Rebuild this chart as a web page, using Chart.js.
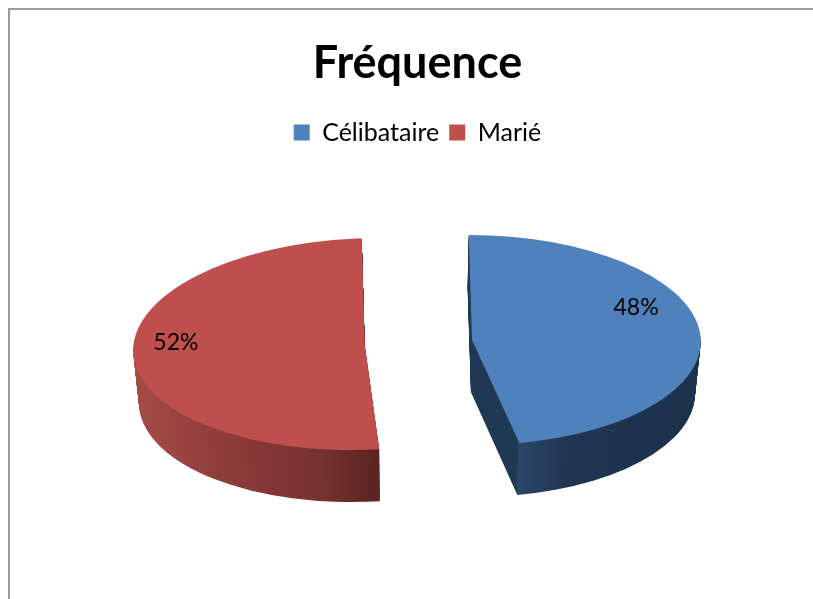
<!DOCTYPE html>
<html>
<head>
<meta charset="utf-8">
<style>
html,body{margin:0;padding:0;background:#fff;overflow:hidden}
#frame{position:absolute;left:8px;top:8px;width:900px;height:700px;border:2px solid #9a9a9a;box-sizing:border-box}
#wrap{position:absolute;left:0;top:0;width:813px;height:599px}
</style>
<script src="https://cdn.jsdelivr.net/npm/chart.js@4"></script>
</head>
<body>
<div id="frame"></div>
<div id="wrap"><canvas id="c"></canvas></div>
<script>
const titleText = 'Fréquence';
const categories = ['Célibataire', 'Marié'];
const values = [48, 52];
const percentLabels = ['48%', '52%'];
const topColors = ['#4f81bd', '#bf4f4c'];
const wallStops = [
  [[0, '#1f3854'], [0.18, '#1f3854'], [0.19, '#2b4668'], [0.4, '#1f3551'], [1, '#1c324b']],
  [[0, '#a54b47'], [0.47, '#8a3a37'], [0.79, '#753230'], [1, '#5c2422']]
];

const pie3d = {
  id: 'pie3d',
  beforeDatasetDraw(chart, args, o) {
    const ctx = chart.ctx;
    const arcs = chart.getDatasetMeta(0).data;
    const R = arcs[0].outerRadius;
    const off0 = (arcs[0].options.offset || 0) / 4;
    const Rtrue = R + off0;
    const s = o.radiusX / Rtrue;
    const sy = s * o.squash;
    arcs.forEach((arc, i) => {
      const k = o.scale[i];
      const view = (dy) => {
        ctx.translate(arc.x + o.xShift[i], arc.y + o.yShift[i] + dy);
        ctx.transform(1, 0, o.shear[i], 1, 0, 0);
        ctx.scale(s * k * (1 - o.taper * dy / o.depth), sy * k);
        ctx.translate(-arc.x, -arc.y);
      };
      const base = arc.options;
      const off = (base.offset || 0) / 4;
      const mid = (arc.startAngle + arc.endAngle) / 2;
      const g = i === 0
        ? ctx.createLinearGradient(arc.x, 0, arc.x + Rtrue, 0)
        : ctx.createLinearGradient(arc.x - Rtrue, 0, arc.x + Rtrue * 0.1, 0);
      wallStops[i].forEach(st => g.addColorStop(st[0], st[1]));
      arc.options = Object.assign(Object.create(base), { backgroundColor: g });
      for (let d = o.depth; d >= 1; d--) {
        ctx.save(); view(d); arc.draw(ctx); ctx.restore();
      }
      arc.options = base;
      ctx.save(); view(0); arc.draw(ctx); ctx.restore();
      ctx.save();
      ctx.fillStyle = '#000';
      ctx.font = o.labelFont;
      ctx.textAlign = 'center';
      ctx.textBaseline = 'middle';
      const a = o.labelAnchors[i];
      const cx = arc.x + Math.cos(mid) * off * s;
      const cy = arc.y + Math.sin(mid) * off * sy;
      ctx.fillText(percentLabels[i], cx + a[0] * o.radiusX, cy + a[1] * o.radiusX * o.squash);
      ctx.restore();
    });
    return false;
  }
};

new Chart(document.getElementById('c'), {
  type: 'pie',
  plugins: [pie3d],
  data: {
    labels: categories,
    datasets: [{ data: values, backgroundColor: topColors, borderWidth: 0, offset: 143, hoverOffset: 143 }]
  },
  options: {
    responsive: true,
    maintainAspectRatio: false,
    animation: false,
    rotation: -2,
    layout: { padding: { top: 36, left: 22, right: 0, bottom: 71 } },
    plugins: {
      tooltip: { enabled: false },
      title: {
        display: true,
        text: titleText,
        color: '#000',
        font: { family: 'Lato', weight: 'bold', size: 45 },
        padding: { top: 0, bottom: 20 }
      },
      legend: {
        position: 'top',
        labels: {
          color: '#000',
          font: { family: 'Lato', size: 25 },
          boxWidth: 16,
          boxHeight: 16,
          padding: 10
        }
      },
      pie3d: {
        radiusX: 231,
        squash: 0.459,
        depth: 52,
        taper: 0.02,
        shear: [0.03, -0.13],
        scale: [1.02, 1],
        xShift: [-1, 2],
        yShift: [1, 0],
        labelFont: '23px Lato',
        labelAnchors: [[0.71, -0.3], [-0.81, -0.01]]
      }
    }
  }
});
</script>
</body>
</html>
